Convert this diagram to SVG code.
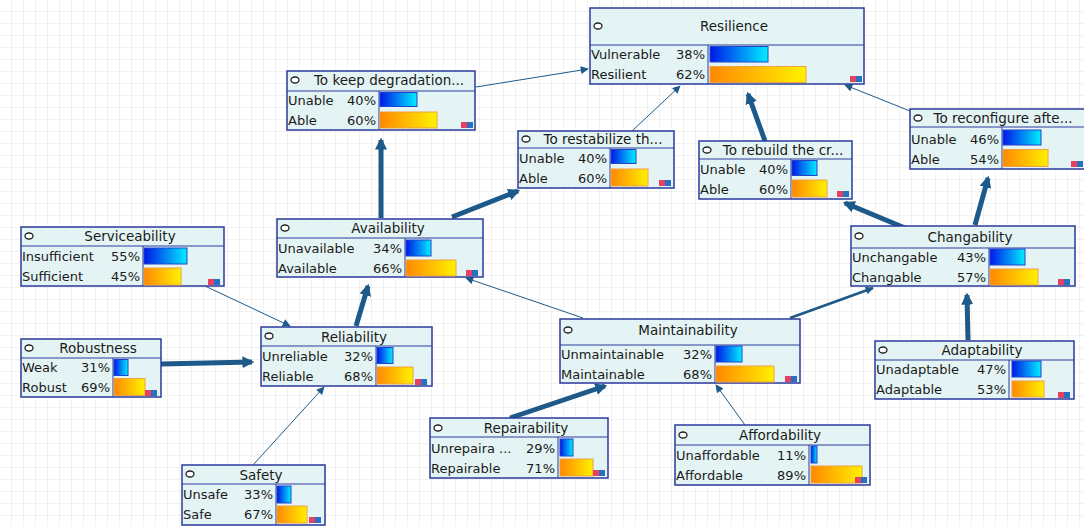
<svg xmlns="http://www.w3.org/2000/svg" width="1084" height="527" viewBox="0 0 1084 527">
<defs>
<pattern id="grid" width="12" height="12" patternUnits="userSpaceOnUse">
<path d="M12 0V12H0" fill="none" stroke="#e4e4e4" stroke-width="1"/>
</pattern>
<linearGradient id="gb" x1="0" y1="0" x2="1" y2="0"><stop offset="0" stop-color="#0018e8"/><stop offset="1" stop-color="#00eeff"/></linearGradient>
<linearGradient id="go" x1="0" y1="0" x2="1" y2="0"><stop offset="0" stop-color="#ff8800"/><stop offset="1" stop-color="#fff200"/></linearGradient>
<marker id="ah" viewBox="0 0 10 10" refX="9" refY="5" markerWidth="10" markerHeight="8" markerUnits="userSpaceOnUse" orient="auto"><path d="M0 0L10 5L0 10z" fill="#1d5a8a"/></marker>
<marker id="ahT" viewBox="0 0 10 10" refX="8" refY="5" markerWidth="12" markerHeight="12" markerUnits="userSpaceOnUse" orient="auto"><path d="M0 0L10 5L0 10z" fill="#1d5a8a"/></marker>
</defs>
<style>
.box{fill:#e4f4f4;stroke:#2a3a9c;stroke-width:1.5}
.ln{stroke:#2a3a9c;stroke-width:1.2}
.ln2{stroke:#2a3a9c;stroke-width:1}
.t{font-family:"DejaVu Sans",sans-serif;font-size:13px;fill:#1a1a1a}
.h{font-family:"DejaVu Sans",sans-serif;font-size:13.5px;fill:#1a1a1a;text-anchor:middle}
.p{text-anchor:end}
.bb{fill:url(#gb);stroke:#2244cc;stroke-width:1}
.bo{fill:url(#go);stroke:#f0a040;stroke-width:1}
.ov{fill:#ffffff;stroke:#222;stroke-width:1.3}
.ir{fill:#e84060}
.ic{fill:#2a70c0}
.c{stroke:#1d5a8a;fill:none}
.thin{stroke-width:1}
.mid{stroke-width:2.5}
.thick{stroke-width:5}
</style>
<rect width="1084" height="527" fill="#ffffff"/>
<rect width="1084" height="527" fill="url(#grid)"/>

<g id="connectors">
<line class="c thin" x1="476" y1="87" x2="588" y2="69" marker-end="url(#ah)"/>
<line class="c thin" x1="632" y1="131" x2="680" y2="86" marker-end="url(#ah)"/>
<line class="c thick" x1="765" y1="141" x2="748" y2="94" marker-end="url(#ahT)"/>
<line class="c thin" x1="910" y1="111" x2="845" y2="85" marker-end="url(#ah)"/>
<line class="c thick" x1="381" y1="218" x2="381" y2="140" marker-end="url(#ahT)"/>
<line class="c thick" x1="452" y1="217" x2="518" y2="191" marker-end="url(#ahT)"/>
<line class="c thick" x1="905" y1="228" x2="845" y2="203" marker-end="url(#ahT)"/>
<line class="c thick" x1="975" y1="225" x2="988" y2="178" marker-end="url(#ahT)"/>
<line class="c thin" x1="205" y1="286" x2="290" y2="326" marker-end="url(#ah)"/>
<line class="c thick" x1="161" y1="364" x2="252" y2="362" marker-end="url(#ahT)"/>
<line class="c thin" x1="253" y1="465" x2="324" y2="387" marker-end="url(#ah)"/>
<line class="c thick" x1="356" y1="326" x2="368" y2="286" marker-end="url(#ahT)"/>
<line class="c thin" x1="583" y1="318" x2="466" y2="278" marker-end="url(#ah)"/>
<line class="c mid" x1="790" y1="318" x2="873" y2="288" marker-end="url(#ah)"/>
<line class="c thick" x1="510" y1="418" x2="605" y2="386" marker-end="url(#ahT)"/>
<line class="c thin" x1="745" y1="425" x2="716" y2="385" marker-end="url(#ah)"/>
<line class="c thick" x1="968" y1="340" x2="967" y2="295" marker-end="url(#ahT)"/>
</g>

<g id="resilience">
<rect class="box" x="590" y="8" width="274" height="76"/>
<line class="ln" x1="590" y1="45" x2="864" y2="45"/>
<line class="ln2" x1="708" y1="45" x2="708" y2="84"/>
<ellipse class="ov" cx="598" cy="26" rx="4" ry="3"/>
<text class="h" x="734" y="31">Resilience</text>
<text class="t" x="591" y="59">Vulnerable</text><text class="t p" x="705" y="59">38%</text>
<text class="t" x="591" y="79">Resilient</text><text class="t p" x="705" y="79">62%</text>
<rect class="bb" x="710" y="46.5" width="58" height="15.5"/>
<rect class="bo" x="710" y="66.5" width="96" height="16"/>
<rect class="ir" x="850" y="76" width="6" height="6"/><rect class="ic" x="856" y="76" width="6" height="6"/>
</g>

<g id="keep">
<rect class="box" x="287" y="71" width="188" height="59"/>
<line class="ln" x1="287" y1="91" x2="475" y2="91"/>
<line class="ln2" x1="379" y1="91" x2="379" y2="130"/>
<ellipse class="ov" cx="295" cy="80" rx="4" ry="3"/>
<text class="h" x="389" y="85">To keep degradation...</text>
<text class="t" x="288" y="105">Unable</text><text class="t p" x="376" y="105">40%</text>
<text class="t" x="288" y="125">Able</text><text class="t p" x="376" y="125">60%</text>
<rect class="bb" x="380" y="92.5" width="37" height="14"/>
<rect class="bo" x="380" y="112" width="57" height="16"/>
<rect class="ir" x="461" y="122" width="6" height="6"/><rect class="ic" x="467" y="122" width="6" height="6"/>
</g>

<g id="restabilize">
<rect class="box" x="518" y="131" width="156" height="57"/>
<line class="ln" x1="518" y1="148" x2="674" y2="148"/>
<line class="ln2" x1="610" y1="148" x2="610" y2="188"/>
<ellipse class="ov" cx="526" cy="139" rx="4" ry="3"/>
<text class="h" x="603" y="144">To restabilize th...</text>
<text class="t" x="519" y="163">Unable</text><text class="t p" x="607" y="163">40%</text>
<text class="t" x="519" y="183">Able</text><text class="t p" x="607" y="183">60%</text>
<rect class="bb" x="611" y="149.5" width="25" height="14"/>
<rect class="bo" x="611" y="169" width="37" height="17"/>
<rect class="ir" x="659" y="180" width="6" height="6"/><rect class="ic" x="665" y="180" width="6" height="6"/>
</g>

<g id="rebuild">
<rect class="box" x="699" y="141" width="153" height="58"/>
<line class="ln" x1="699" y1="159" x2="852" y2="159"/>
<line class="ln2" x1="791" y1="159" x2="791" y2="199"/>
<ellipse class="ov" cx="707" cy="150" rx="4" ry="3"/>
<text class="h" x="783" y="155">To rebuild the cr...</text>
<text class="t" x="700" y="174">Unable</text><text class="t p" x="788" y="174">40%</text>
<text class="t" x="700" y="194">Able</text><text class="t p" x="788" y="194">60%</text>
<rect class="bb" x="792" y="160.5" width="25" height="15"/>
<rect class="bo" x="792" y="180" width="35" height="17"/>
<rect class="ir" x="837" y="191" width="6" height="6"/><rect class="ic" x="843" y="191" width="6" height="6"/>
</g>

<g id="reconfigure">
<rect class="box" x="910" y="109" width="178" height="60"/>
<line class="ln" x1="910" y1="127" x2="1088" y2="127"/>
<line class="ln2" x1="1002" y1="127" x2="1002" y2="169"/>
<ellipse class="ov" cx="918" cy="118" rx="4" ry="3"/>
<text class="h" x="1003" y="123">To reconfigure afte...</text>
<text class="t" x="911" y="144">Unable</text><text class="t p" x="999" y="144">46%</text>
<text class="t" x="911" y="164">Able</text><text class="t p" x="999" y="164">54%</text>
<rect class="bb" x="1003" y="130" width="38" height="15"/>
<rect class="bo" x="1003" y="149.5" width="45" height="17"/>
<rect class="ir" x="1071" y="161" width="6" height="6"/><rect class="ic" x="1077" y="161" width="6" height="6"/>
</g>

<g id="serviceability">
<rect class="box" x="21" y="227" width="203" height="59"/>
<line class="ln" x1="21" y1="246" x2="224" y2="246"/>
<line class="ln2" x1="143" y1="246" x2="143" y2="286"/>
<ellipse class="ov" cx="29" cy="236" rx="4" ry="3"/>
<text class="h" x="130" y="241">Serviceability</text>
<text class="t" x="22" y="261">Insufficient</text><text class="t p" x="140" y="261">55%</text>
<text class="t" x="22" y="281">Sufficient</text><text class="t p" x="140" y="281">45%</text>
<rect class="bb" x="144" y="248" width="43" height="16"/>
<rect class="bo" x="144" y="268" width="37" height="17"/>
<rect class="ir" x="208" y="279" width="6" height="6"/><rect class="ic" x="214" y="279" width="6" height="6"/>
</g>

<g id="availability">
<rect class="box" x="277" y="219" width="206" height="58"/>
<line class="ln" x1="277" y1="238" x2="483" y2="238"/>
<line class="ln2" x1="405" y1="238" x2="405" y2="277"/>
<ellipse class="ov" cx="285" cy="228" rx="4" ry="3"/>
<text class="h" x="388" y="233">Availability</text>
<text class="t" x="278" y="253">Unavailable</text><text class="t p" x="402" y="253">34%</text>
<text class="t" x="278" y="273">Available</text><text class="t p" x="402" y="273">66%</text>
<rect class="bb" x="406" y="240" width="25" height="16"/>
<rect class="bo" x="406" y="260" width="50" height="16"/>
<rect class="ir" x="466" y="270" width="6" height="6"/><rect class="ic" x="472" y="270" width="6" height="6"/>
</g>

<g id="changability">
<rect class="box" x="851" y="226" width="224" height="60"/>
<line class="ln" x1="851" y1="248" x2="1075" y2="248"/>
<line class="ln2" x1="989" y1="248" x2="989" y2="286"/>
<ellipse class="ov" cx="859" cy="236" rx="4" ry="3"/>
<text class="h" x="970" y="242">Changability</text>
<text class="t" x="852" y="262">Unchangable</text><text class="t p" x="986" y="262">43%</text>
<text class="t" x="852" y="282">Changable</text><text class="t p" x="986" y="282">57%</text>
<rect class="bb" x="990" y="249" width="35" height="16"/>
<rect class="bo" x="990" y="269" width="48" height="16"/>
<rect class="ir" x="1058" y="279" width="6" height="6"/><rect class="ic" x="1064" y="279" width="6" height="6"/>
</g>

<g id="robustness">
<rect class="box" x="21" y="339" width="140" height="58"/>
<line class="ln" x1="21" y1="358" x2="161" y2="358"/>
<line class="ln2" x1="113" y1="358" x2="113" y2="397"/>
<ellipse class="ov" cx="29" cy="348" rx="4" ry="3"/>
<text class="h" x="98" y="353">Robustness</text>
<text class="t" x="22" y="372">Weak</text><text class="t p" x="110" y="372">31%</text>
<text class="t" x="22" y="392">Robust</text><text class="t p" x="110" y="392">69%</text>
<rect class="bb" x="114" y="359.5" width="14" height="16"/>
<rect class="bo" x="114" y="378.5" width="31" height="17"/>
<rect class="ir" x="145" y="390" width="6" height="6"/><rect class="ic" x="151" y="390" width="6" height="6"/>
</g>

<g id="reliability">
<rect class="box" x="261" y="327" width="171" height="59"/>
<line class="ln" x1="261" y1="346" x2="432" y2="346"/>
<line class="ln2" x1="376" y1="346" x2="376" y2="386"/>
<ellipse class="ov" cx="269" cy="336" rx="4" ry="3"/>
<text class="h" x="354" y="342">Reliability</text>
<text class="t" x="262" y="361">Unreliable</text><text class="t p" x="373" y="361">32%</text>
<text class="t" x="262" y="381">Reliable</text><text class="t p" x="373" y="381">68%</text>
<rect class="bb" x="377" y="347.5" width="16" height="16"/>
<rect class="bo" x="377" y="367" width="36" height="17"/>
<rect class="ir" x="415" y="379" width="6" height="6"/><rect class="ic" x="421" y="379" width="6" height="6"/>
</g>

<g id="maintainability">
<rect class="box" x="560" y="319" width="240" height="64"/>
<line class="ln" x1="560" y1="345" x2="800" y2="345"/>
<line class="ln2" x1="715" y1="345" x2="715" y2="383"/>
<ellipse class="ov" cx="568" cy="330" rx="4" ry="3"/>
<text class="h" x="688" y="335">Maintainability</text>
<text class="t" x="561" y="359">Unmaintainable</text><text class="t p" x="712" y="359">32%</text>
<text class="t" x="561" y="379">Maintainable</text><text class="t p" x="712" y="379">68%</text>
<rect class="bb" x="716" y="346" width="26" height="16"/>
<rect class="bo" x="716" y="366" width="58" height="16"/>
<rect class="ir" x="785" y="376" width="6" height="6"/><rect class="ic" x="791" y="376" width="6" height="6"/>
</g>

<g id="adaptability">
<rect class="box" x="875" y="341" width="199" height="58"/>
<line class="ln" x1="875" y1="360" x2="1074" y2="360"/>
<line class="ln2" x1="1009" y1="360" x2="1009" y2="399"/>
<ellipse class="ov" cx="883" cy="350" rx="4" ry="3"/>
<text class="h" x="982" y="355">Adaptability</text>
<text class="t" x="876" y="374">Unadaptable</text><text class="t p" x="1006" y="374">47%</text>
<text class="t" x="876" y="394">Adaptable</text><text class="t p" x="1006" y="394">53%</text>
<rect class="bb" x="1012" y="361" width="29" height="16"/>
<rect class="bo" x="1012" y="381" width="32" height="16"/>
<rect class="ir" x="1058" y="392" width="6" height="6"/><rect class="ic" x="1064" y="392" width="6" height="6"/>
</g>

<g id="repairability">
<rect class="box" x="430" y="418" width="178" height="60"/>
<line class="ln" x1="430" y1="437" x2="608" y2="437"/>
<line class="ln2" x1="558" y1="437" x2="558" y2="478"/>
<ellipse class="ov" cx="438" cy="428" rx="4" ry="3"/>
<text class="h" x="526" y="433">Repairability</text>
<text class="t" x="431" y="453">Unrepaira ...</text><text class="t p" x="555" y="453">29%</text>
<text class="t" x="431" y="473">Repairable</text><text class="t p" x="555" y="473">71%</text>
<rect class="bb" x="560" y="439" width="13" height="17"/>
<rect class="bo" x="560" y="459" width="33" height="17"/>
<rect class="ir" x="593" y="470" width="6" height="6"/><rect class="ic" x="599" y="470" width="6" height="6"/>
</g>

<g id="affordability">
<rect class="box" x="675" y="425" width="195" height="60"/>
<line class="ln" x1="675" y1="445" x2="870" y2="445"/>
<line class="ln2" x1="809" y1="445" x2="809" y2="485"/>
<ellipse class="ov" cx="683" cy="435" rx="4" ry="3"/>
<text class="h" x="780" y="440">Affordability</text>
<text class="t" x="676" y="460">Unaffordable</text><text class="t p" x="806" y="460">11%</text>
<text class="t" x="676" y="480">Affordable</text><text class="t p" x="806" y="480">89%</text>
<rect class="bb" x="811" y="446" width="6" height="17"/>
<rect class="bo" x="811" y="466" width="51" height="17"/>
<rect class="ir" x="855" y="477" width="6" height="6"/><rect class="ic" x="861" y="477" width="6" height="6"/>
</g>

<g id="safety">
<rect class="box" x="182" y="465" width="143" height="60"/>
<line class="ln" x1="182" y1="484" x2="325" y2="484"/>
<line class="ln2" x1="276" y1="484" x2="276" y2="525"/>
<ellipse class="ov" cx="190" cy="474" rx="4" ry="3"/>
<text class="h" x="261" y="480">Safety</text>
<text class="t" x="183" y="499">Unsafe</text><text class="t p" x="273" y="499">33%</text>
<text class="t" x="183" y="519">Safe</text><text class="t p" x="273" y="519">67%</text>
<rect class="bb" x="277" y="486" width="14" height="17"/>
<rect class="bo" x="277" y="506" width="30" height="17"/>
<rect class="ir" x="309" y="517" width="6" height="6"/><rect class="ic" x="315" y="517" width="6" height="6"/>
</g>
</svg>
